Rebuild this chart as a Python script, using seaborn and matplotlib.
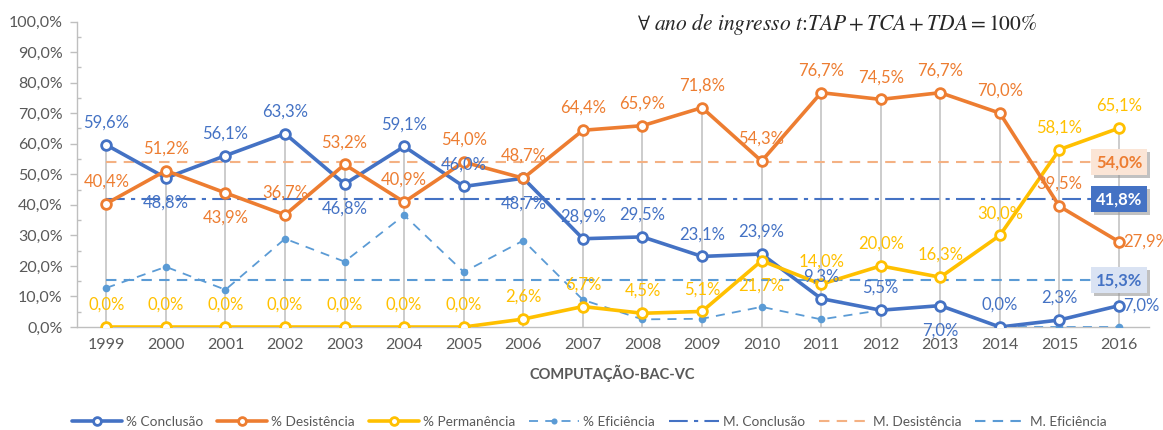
import matplotlib
matplotlib.use("Agg")
import matplotlib.pyplot as plt
import matplotlib.ticker as mticker
import matplotlib.patheffects as pe
import pandas as pd
import seaborn as sns

# --- data ---
years = [1999, 2000, 2001, 2002, 2003, 2004, 2005, 2006, 2007, 2008,
         2009, 2010, 2011, 2012, 2013, 2014, 2015, 2016]
conclusao = [59.6, 48.8, 56.1, 63.3, 46.8, 59.1, 46.0, 48.7, 28.9, 29.5,
             23.1, 23.9, 9.3, 5.5, 7.0, 0.0, 2.3, 7.0]
desistencia = [40.4, 51.2, 43.9, 36.7, 53.2, 40.9, 54.0, 48.7, 64.4, 65.9,
               71.8, 54.3, 76.7, 74.5, 76.7, 70.0, 39.5, 27.9]
permanencia = [0.0, 0.0, 0.0, 0.0, 0.0, 0.0, 0.0, 2.6, 6.7, 4.5,
               5.1, 21.7, 14.0, 20.0, 16.3, 30.0, 58.1, 65.1]
eficiencia = [12.8, 19.7, 12.2, 28.9, 21.4, 36.6, 18.0, 28.3, 8.9, 2.5,
              2.7, 6.6, 2.5, 5.5, 7.0, 0.0, 0.0, 0.0]
media_conclusao = 41.8
media_desistencia = 54.0
media_eficiencia = 15.3

# label placement exceptions (default is above the point)
conc_pos = {2000: "below", 2003: "below", 2006: "below", 2013: "below", 2016: "right"}
des_pos = {2001: "below", 2016: "right"}
perm_pos = {2010: "below"}

BLUE = "#4472C4"
ORANGE = "#ED7D31"
YELLOW = "#FFC000"
LBLUE = "#5B9BD5"
GRAY = "#595959"

df = pd.DataFrame({"x": range(len(years)), "Ano": years,
                   "conc": conclusao, "des": desistencia,
                   "perm": permanencia, "efi": eficiencia})

sns.set_style("white")
plt.rcParams["font.family"] = ["Lato", "DejaVu Sans"]
plt.rcParams["mathtext.fontset"] = "stix"

fig = plt.figure(figsize=(11.63, 4.30), dpi=100)
ax = fig.add_axes([0.0658, 0.2395, 0.922, 0.7105])

# drop lines up to the highest point of each year
tops = df[["conc", "des", "perm", "efi"]].max(axis=1)
ax.vlines(df["x"], 0, tops, color="#C8C8C8", lw=1.3, zorder=1)

# mean lines
x0, x1 = df["x"].iloc[0], df["x"].iloc[-1]
ax.plot([x0, x1], [media_conclusao] * 2, color=BLUE, lw=1.5,
        ls=(0, (9, 3, 2, 3)), zorder=2, label="M. Conclusão")
ax.plot([x0, x1], [media_desistencia] * 2, color="#F4B183", lw=1.5,
        ls=(0, (5, 3.5)), zorder=2, label="M. Desistência")
ax.plot([x0, x1], [media_eficiencia] * 2, color=LBLUE, lw=1.5,
        ls=(0, (5, 3.5)), zorder=2, label="M. Eficiência")

# series
open_marker = dict(marker="o", markersize=7, markerfacecolor="white",
                   markeredgewidth=2.0, lw=2.6)
sns.lineplot(data=df, x="x", y="efi", ax=ax, color=LBLUE, lw=1.3,
             linestyle=(0, (5, 4)), marker="o", markersize=5.5,
             markeredgewidth=0, zorder=3, label="% Eficiência")
sns.lineplot(data=df, x="x", y="conc", ax=ax, color=BLUE,
             markeredgecolor=BLUE, zorder=4, label="% Conclusão", **open_marker)
sns.lineplot(data=df, x="x", y="perm", ax=ax, color=YELLOW,
             markeredgecolor=YELLOW, zorder=5, label="% Permanência", **open_marker)
sns.lineplot(data=df, x="x", y="des", ax=ax, color=ORANGE,
             markeredgecolor=ORANGE, zorder=6, label="% Desistência", **open_marker)


def fmt(v):
    return f"{v:.1f}%".replace(".", ",")


def put_labels(col, color, where):
    for xi, yr, v in zip(df["x"], df["Ano"], df[col]):
        pos = where.get(yr, "above")
        if pos == "above":
            off, ha, va = (0, 16), "center", "center"
        elif pos == "below":
            off, ha, va = (0, -18), "center", "center"
        else:
            off, ha, va = (3, 0), "left", "center"
        ax.annotate(fmt(v), (xi, v), xytext=off, textcoords="offset points",
                    ha=ha, va=va, fontsize=12, color=color, zorder=10)


put_labels("conc", BLUE, conc_pos)
put_labels("des", ORANGE, des_pos)
put_labels("perm", YELLOW, perm_pos)

# boxed mean labels at the right end
shadow = [pe.withSimplePatchShadow(offset=(2, -2), shadow_rgbFace="#999999", alpha=0.6)]
for val, fc, tc in [(media_desistencia, "#FBE5D6", ORANGE),
                    (media_conclusao, BLUE, "white"),
                    (media_eficiencia, "#DAE3F3", BLUE)]:
    t = ax.text(x1, val, fmt(val), ha="center", va="center", fontsize=12,
                fontweight="bold", color=tc, zorder=12,
                bbox=dict(boxstyle="square,pad=0.3", fc=fc, ec="none"))
    t.get_bbox_patch().set_path_effects(shadow)

# axes styling
ax.set_xlim(-0.5, len(years) - 0.5)
ax.set_ylim(0, 100)
ax.set_xticks(df["x"])
ax.set_xticklabels(years)
ax.yaxis.set_major_locator(mticker.MultipleLocator(10))
ax.yaxis.set_minor_locator(mticker.MultipleLocator(5))
ax.yaxis.set_major_formatter(mticker.FuncFormatter(lambda v, p: fmt(v)))
ax.tick_params(axis="x", length=0, pad=8, labelsize=11.5, labelcolor=GRAY)
ax.tick_params(axis="y", which="major", direction="out", length=5, width=1,
               color="#BFBFBF", pad=5, labelsize=11.5, labelcolor=GRAY, left=True)
ax.tick_params(axis="y", which="minor", direction="in", length=3, width=1,
               color="#BFBFBF", left=True)
for s in ["top", "right"]:
    ax.spines[s].set_visible(False)
for s in ["left", "bottom"]:
    ax.spines[s].set_color("#BFBFBF")
    ax.spines[s].set_linewidth(1)

ax.set_xlabel("COMPUTAÇÃO-BAC-VC", fontsize=10.5, fontweight="bold",
              color=GRAY, labelpad=9)
ax.set_ylabel("")

fig.text(0.72, 0.942, r"$\forall\ ano\ de\ ingresso\ t\colon TAP + TCA + TDA = 100\%$",
         ha="center", va="center", fontsize=15.5, color="#262626")

# legend in the original order
h, l = ax.get_legend_handles_labels()
order = ["% Conclusão", "% Desistência", "% Permanência", "% Eficiência",
         "M. Conclusão", "M. Desistência", "M. Eficiência"]
hmap = dict(zip(l, h))
ax.legend([hmap[k] for k in order], order, loc="center",
          bbox_to_anchor=(0.478, -0.31), ncol=7, frameon=False, fontsize=9.8,
          labelcolor=GRAY, handlelength=3.7, columnspacing=1.0,
          handletextpad=0.3, markerscale=0.8)

fig.savefig("out.png", dpi=100)
